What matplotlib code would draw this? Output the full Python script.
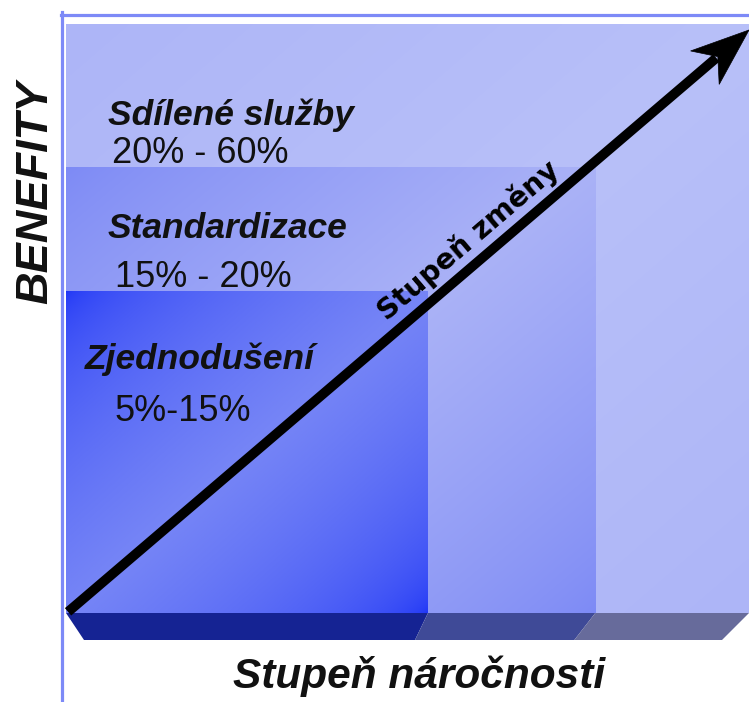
import numpy as np
import matplotlib
matplotlib.use("Agg")
import matplotlib.pyplot as plt
from matplotlib.patches import Polygon
from matplotlib.lines import Line2D
from matplotlib.colors import to_rgb

# ---- data ----
tiers = ["Zjednodušení", "Standardizace", "Sdílené služby"]
ranges = ["5%-15%", "15% - 20%", "20% - 60%"]
difficulty = [0.53, 0.775, 1.0]      # right edge of each tier (Stupeň náročnosti)
benefit = [0.545, 0.757, 1.0]        # top of each tier (BENEFITY)
x_label = "Stupeň náročnosti"
y_label = "BENEFITY"
arrow_label = "Stupeň změny"

# ---- styles ----
W, H = 749, 702
fig = plt.figure(figsize=(W / 100, H / 100), dpi=100)
fig.patch.set_facecolor("white")

def fx(px):
    return px / W

def fy(py):
    return 1 - py / H

# plot region in pixels
L, R, T, B = 66, 749, 24, 613
ax = fig.add_axes([fx(L), fy(B), fx(R) - fx(L), fy(T) - fy(B)])
ax.set_axis_off()

dark = ["#1c33f6", "#7d8af5", "#adb5f7"]
light = ["#7685f6", "#aab2f7", "#b8c0f9"]
gam = [0.5, 0.8, 1.0]
base_cols = ["#152393", "#3f4a97", "#676b9b"]

def grad_img(c0, c1, g, n=300):
    u = np.linspace(0, 1, n)[None, :]
    v = np.linspace(0, 1, n)[:, None]     # 0 at top row
    t = (u + v) / 2
    s = (1 - np.abs(2 * t - 1)) ** g
    a = np.array(to_rgb(c0))
    b = np.array(to_rgb(c1))
    return a[None, None, :] + (b - a)[None, None, :] * s[..., None]

for i in [2, 1, 0]:
    img = grad_img(dark[i], light[i], gam[i])
    ax.imshow(img, extent=(0, difficulty[i], 0, benefit[i]), aspect="auto",
              zorder=2 + (2 - i), interpolation="bilinear", origin="upper")

ax.set_xlim(0, 1)
ax.set_ylim(0, 1)

# base strips (3D bottom)
depth = 27 / (B - T)
slants = [13 / (R - L), 21 / (R - L), 27 / (R - L)]
lefts = [0] + difficulty[:-1]
for i in range(3):
    x0 = lefts[i]
    x1 = difficulty[i]
    bl = x0 + (18 / (R - L) if i == 0 else -slants[i - 1])
    br = x1 - slants[i]
    poly = Polygon([(x0, 0), (x1, 0), (br, -depth), (bl, -depth)],
                   closed=True, facecolor=base_cols[i], edgecolor="none",
                   zorder=6, clip_on=False)
    ax.add_patch(poly)

# frame lines
fig.add_artist(Line2D([fx(61.5), fx(61.5)], [fy(12), fy(702)], color="#7d8af7", lw=2.3))
fig.add_artist(Line2D([fx(60.5), fx(749)], [fy(14.5), fy(14.5)], color="#7d8af7", lw=2.3))

# arrow
x0d, y0d = 0.003, 0.002
x1d, y1d = 1.0, (B - 30) / (B - T)
p0 = ax.transData.transform((x0d, y0d))
p1 = ax.transData.transform((x1d, y1d))
d = (p1 - p0) / np.linalg.norm(p1 - p0)
nrm = np.array([-d[1], d[0]])
HL, HW, NOTCH = 58, 22, 17
shaft_end = p1 - d * (HL - NOTCH + 2)
inv = fig.transFigure.inverted()
sp = inv.transform([p0, shaft_end])
fig.add_artist(Line2D(sp[:, 0], sp[:, 1], color="black", lw=7.0,
                      solid_capstyle="butt", zorder=10))
head = [p1, p1 - d * HL + nrm * HW, p1 - d * (HL - NOTCH), p1 - d * HL - nrm * HW]
fig.add_artist(Polygon(inv.transform(head), closed=True, facecolor="black",
                       edgecolor="black", lw=0.5, transform=fig.transFigure, zorder=10))
ang = np.degrees(np.arctan2(d[1], d[0]))

# texts
bi = dict(family="Liberation Sans", weight="bold", style="italic", color="#111111")
rg = dict(family="Liberation Sans", weight="normal", color="#111111")
fs_t = 25.5
fs_r = 26
tier_lbl_pos = [(85, 369), (108, 238), (108, 125)]
rng_pos = [(115, 421), (115, 287), (112, 163)]
for i in range(3):
    fig.text(fx(tier_lbl_pos[i][0]), fy(tier_lbl_pos[i][1]), tiers[i], fontsize=fs_t,
             ha="left", va="baseline", **bi)
    fig.text(fx(rng_pos[i][0]), fy(rng_pos[i][1]), ranges[i], fontsize=fs_r,
             ha="left", va="baseline", **rg)

fig.text(fx(36), fy(192), y_label, fontsize=32.5, rotation=90, ha="center", va="center", **bi)
fig.text(fx(419), fy(688), x_label, fontsize=30.5, ha="center", va="baseline", **bi)

fig.text(fx(468), fy(240), arrow_label, fontsize=20.5, rotation=ang, ha="center", va="center",
         rotation_mode="anchor", family="DejaVu Sans", weight="bold", color="black", zorder=11)

fig.savefig("out.png", dpi=100, facecolor="white")
